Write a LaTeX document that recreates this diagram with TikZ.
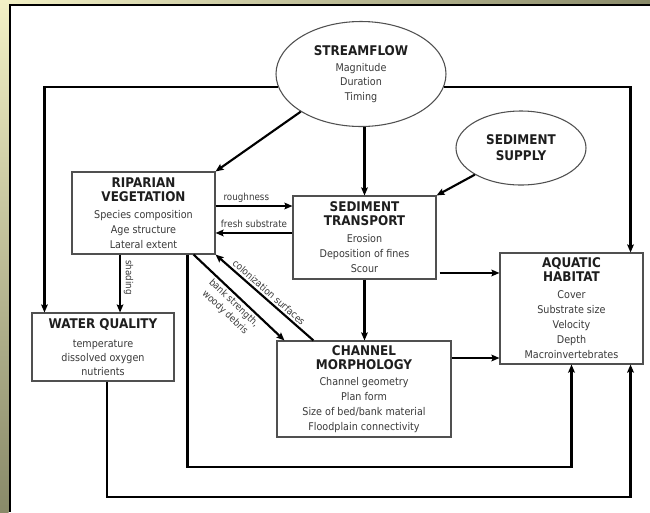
\documentclass[tikz,border=0pt]{standalone}
\usepackage{fontspec}
\setmainfont{DejaVu Sans}[FakeStretch=0.9]
\usetikzlibrary{arrows.meta,shapes.geometric,calc}
\definecolor{txtc}{HTML}{3A3A3A}
\definecolor{ttlc}{HTML}{1E1E1E}
\definecolor{boxc}{HTML}{505050}
\definecolor{lightol}{HTML}{F3F1C6}
\definecolor{darkol}{HTML}{898A69}
\newcommand\hdr[1]{{\fontsize{10}{11}\selectfont\bfseries\color{ttlc}#1}}
\begin{document}
\begin{tikzpicture}[x=0.75pt,y=-0.75pt,
  box/.style={draw=boxc, line width=0.8pt, fill=white, align=center, inner sep=0pt,
    text=txtc, font=\fontsize{8}{11.25}\selectfont},
  oval/.style={ellipse, draw=boxc, line width=0.8pt, fill=white, align=center, inner sep=0pt,
    text=txtc, font=\fontsize{8}{11.25}\selectfont},
  conn/.style={line width=1.6pt, draw=black, -{Stealth[length=6pt,width=5pt,inset=1pt]}},
  lbl/.style={font=\fontsize{7.3}{9.5}\selectfont, text=txtc, inner sep=1pt},
]
\useasboundingbox (0,0) rectangle (650,512);
\fill[white] (0,0) rectangle (650,512);
\shade[left color=lightol, right color=darkol] (0,0) rectangle (650,4.5);
\shade[top color=lightol, bottom color=darkol] (0,0) rectangle (8.5,512);
\draw[line width=1.5pt] (9.5,512) -- (9.5,4.5) -- (650,4.5);

% nodes
\node[oval, minimum width=127.5pt, minimum height=78.75pt] (sf) at (361,74)
  {\hdr{STREAMFLOW}\\[0.75pt]Magnitude\\[-0.75pt]Duration\\Timing};
\node[oval, minimum width=97.5pt, minimum height=55.5pt] (ss) at (521,148)
  {\hdr{SEDIMENT}\\[0.75pt]\hdr{SUPPLY}};
\node[box, minimum width=107.25pt, minimum height=61.5pt] (rv) at (143.5,213)
  {\hdr{RIPARIAN}\\[-0.75pt]\hdr{VEGETATION}\\[1.5pt]Species composition\\Age structure\\Lateral extent};
\node[box, minimum width=107.25pt, minimum height=62.25pt] (st) at (364.5,237.5)
  {\hdr{SEDIMENT}\\[-0.75pt]\hdr{TRANSPORT}\\[1.5pt]Erosion\\Deposition of fines\\Scour};
\node[box, minimum width=107.25pt, minimum height=83.25pt] (aq) at (571.5,308.5)
  {\hdr{AQUATIC}\\[-0.75pt]\hdr{HABITAT}\\[1.5pt]Cover\\Substrate size\\Velocity\\Depth\\Macroinvertebrates};
\node[box, minimum width=106.5pt, minimum height=51pt] (wq) at (103,347)
  {\hdr{WATER QUALITY}\\[2.5pt]temperature\\[-0.75pt]dissolved oxygen\\[-0.75pt]nutrients};
\node[box, minimum width=130.5pt, minimum height=72pt] (cm) at (364,389)
  {\hdr{CHANNEL}\\[-0.75pt]\hdr{MORPHOLOGY}\\[1.2pt]Channel geometry\\Plan form\\Size of bed/bank material\\Floodplain connectivity};

\coordinate (yA) at (0,467);
\coordinate (yB) at (0,497);
\coordinate (xr) at ([xshift=-9.75pt]aq.south east);

% connectors
\draw[conn] (sf.189) -| ([xshift=9.75pt]wq.north west);
\draw[conn] (sf.-9) -| ([xshift=-9.75pt]aq.north east);
\draw[conn] (sf.212) -- (rv.north east);
\draw[conn] (st.north |- sf.south) -- (st.north);
\draw[conn] (ss.210) -- (st.north east);
\draw[conn] ([yshift=5.25pt]rv.east) -- ([yshift=5.25pt]rv.east -| st.west)
  node[lbl, pos=0.4, above=1pt] (l1) {roughness};
\draw[conn] ([yshift=3.4pt]st.west) -- ([yshift=3.4pt]st.west -| rv.east)
  node[lbl, midway, above=2pt] (l2) {fresh substrate};
\draw[conn] ([xshift=-17.6pt]rv.south) -- ([xshift=-17.6pt]rv.south |- wq.north)
  node[lbl, pos=0.4, rotate=-90, anchor=south, yshift=1pt] (l3) {shading};
\draw[conn] ([xshift=27.75pt]cm.north west) -- (rv.south east)
  node[lbl, midway, sloped, above=0.5pt] (l4) {colonization surfaces};
\draw[conn] ([xshift=-16.5pt]rv.south east) -- ([xshift=6pt]cm.north west)
  node[lbl, midway, sloped, below=0.5pt, align=center] (l5) {bank strength,\\woody debris};
\draw[conn] (st.south) -- (st.south |- cm.north);
\draw[conn] ([xshift=2.25pt,yshift=-26.6pt]st.east) -- ([yshift=-26.6pt]st.east -| aq.west);
\draw[conn] ([yshift=23.25pt]cm.east) -- ([yshift=23.25pt]cm.east -| aq.west);
\draw[conn] ([xshift=-21pt]rv.south east) |- (yA -| aq.south) -- (aq.south);
\draw[conn] ([xshift=3pt]wq.south) |- (yB -| xr) -- (xr);
\end{tikzpicture}
\end{document}
